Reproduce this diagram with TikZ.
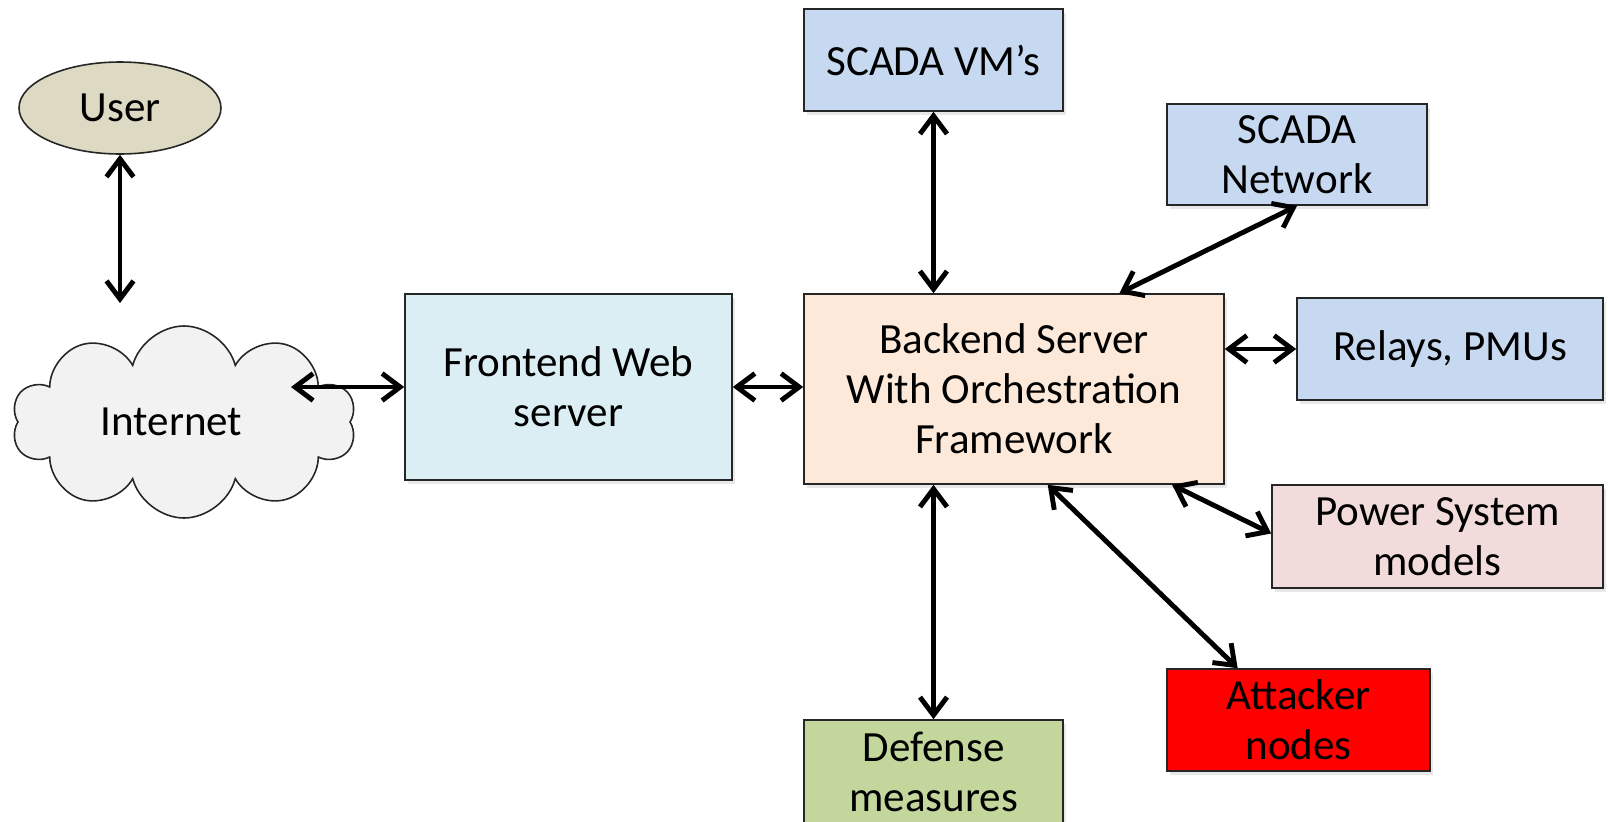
\documentclass[tikz,border=0pt]{standalone}
\usepackage{fontspec}
\setmainfont{Carlito}
\usetikzlibrary{shapes.geometric,shapes.symbols,arrows.meta,calc,shadows}

\definecolor{usertan}{HTML}{DDD9C3}
\definecolor{cloudgray}{HTML}{F2F2F2}
\definecolor{webblue}{HTML}{DBEEF4}
\definecolor{backpeach}{HTML}{FDE9D9}
\definecolor{scadablue}{HTML}{C6D9F1}
\definecolor{modelpink}{HTML}{F2DCDB}
\definecolor{defgreen}{HTML}{C3D69B}

\tikzset{
	blk/.style={draw=black!85, line width=0.9pt, align=center, inner sep=0pt,
		font=\fontsize{24.5}{28.5}\selectfont,
		drop shadow={shadow xshift=0.6mm, shadow yshift=-0.8mm, opacity=0.18}},
	link/.style={<->, line width=2.8pt},
}

\begin{document}
\begin{tikzpicture}[>={Straight Barb[length=3.6mm,width=5.4mm]}]
	\useasboundingbox (0,0) rectangle (32.16,-16.42);
	% left side: user and internet
	\node[ellipse, draw=black!85, line width=0.9pt, fill=usertan, minimum width=4.04cm, minimum height=1.84cm,
		font=\fontsize{24.5}{28.5}\selectfont] (user) at (2.40,-2.16) {User};
	\node[cloud, cloud puffs=10, cloud ignores aspect, draw=black!85, line width=0.9pt, fill=cloudgray,
		minimum width=6.88cm, minimum height=3.84cm, inner sep=0pt,
		font=\fontsize{24.5}{28.5}\selectfont] (inet) at (3.68,-8.44) {Internet\hspace*{0.5cm}};
	\node[blk, fill=webblue, minimum width=6.54cm, minimum height=3.72cm] (front) at (11.37,-7.74) {Frontend Web\\server};
	% backend and what hangs off it
	\node[blk, fill=backpeach, minimum width=8.40cm, minimum height=3.80cm] (back) at (20.28,-7.78) {Backend Server\\With Orchestration\\Framework};
	\node[blk, fill=scadablue, minimum width=5.18cm, minimum height=2.04cm] (vms) at (18.67,-1.20) {SCADA VM’s};
	\node[blk, fill=scadablue, minimum width=5.20cm, minimum height=2.02cm] (net) at (25.94,-3.09) {SCADA\\Network};
	\node[blk, fill=scadablue, minimum width=6.12cm, minimum height=2.04cm] (relay) at (29.00,-6.98) {Relays, PMUs};
	\node[blk, fill=modelpink, minimum width=6.62cm, minimum height=2.06cm] (psm) at (28.75,-10.73) {Power System\\models};
	\node[blk, fill=red, minimum width=5.26cm, minimum height=2.04cm] (atk) at (25.97,-14.40) {Attacker\\nodes};
	\node[blk, fill=defgreen, minimum width=5.18cm, minimum height=2.08cm] (def) at (18.67,-15.44) {Defense\\measures};

	\coordinate (userport) at (2.40,-6.06);
	\coordinate (inetport) at (5.82,-7.74);

	\draw[link] (user.south) -- (userport);
	\draw[link] (inetport) -- (front.west);
	\draw[link] (front.east) -- (front.east -| back.west);
	\draw[link] (vms.south) -- (vms.south |- back.north);
	\draw[link] ($(back.north)!0.5!(back.north east)$) -- (net.south);
	\draw[link] (relay.west -| back.east) -- (relay.west);
	\draw[link] ($(back.south)!0.75!(back.south east)$) -- ($(psm.west)+(0,0.06)$);
	\draw[link] ($(back.south)!0.16!(back.south east)$) -- ($(atk.north west)!0.54!(atk.north)$);
	\draw[link] (def.north |- back.south) -- (def.north);
\end{tikzpicture}
\end{document}
